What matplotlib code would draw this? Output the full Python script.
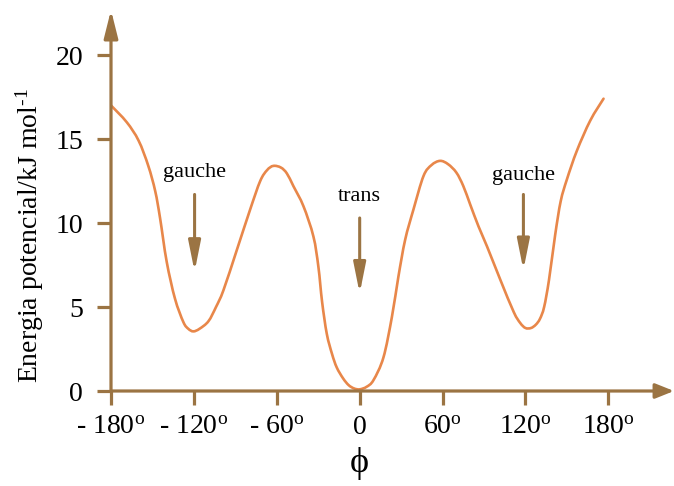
import numpy as np
import matplotlib
matplotlib.use("Agg")
import matplotlib.pyplot as plt
from matplotlib.path import Path
from matplotlib.patches import PathPatch

plt.rcParams['font.family'] = ['Liberation Serif', 'DejaVu Serif']
plt.rcParams['mathtext.fontset'] = 'custom'
plt.rcParams['mathtext.rm'] = 'Liberation Serif'
plt.rcParams['mathtext.it'] = 'Liberation Serif:italic'

# dihedral angle (deg) and potential energy (kJ/mol)
phi = [-180, -168.6, -160, -153, -148, -144.5, -139.7, -133.7, -127.6, -124, -120.4,
       -116, -109.5, -104, -98.6, -88.9, -79.3, -72, -67, -62.5, -57, -52.7, -48,
       -40.7, -33.5, -29.9, -27.2, -23.8, -20, -16.6, -12, -8, -4, 0, 5, 10, 17.2,
       23.3, 28, 32.9, 38.9, 46.2, 52, 58.2, 64, 70, 75, 80, 86, 92.2, 101.9, 111.5,
       116.2, 120, 124, 127.5, 130.5, 133.5, 137, 141.5, 145.5, 150, 157.2, 166.9, 176.5]
energy = [17.0, 16.0, 14.9, 13.4, 11.9, 10.3, 7.7, 5.5, 4.1, 3.7, 3.55,
          3.7, 4.15, 5.0, 6.0, 8.4, 10.8, 12.5, 13.15, 13.4, 13.3, 12.95, 12.2,
          11.0, 9.2, 7.4, 5.3, 3.4, 2.2, 1.4, 0.75, 0.35, 0.15, 0.1, 0.25, 0.65, 2.0,
          4.4, 6.8, 9.0, 10.8, 12.8, 13.45, 13.7, 13.5, 13.0, 12.2, 11.1, 9.8, 8.6, 6.6, 4.7,
          4.05, 3.75, 3.75, 3.95, 4.3, 5.0, 6.6, 9.3, 11.3, 12.6, 14.3, 16.1, 17.4]

xticks = [-180, -120, -60, 0, 60, 120, 180]
xticklabels = ['- 180$^{\\rm o}$', '- 120$^{\\rm o}$', '- 60$^{\\rm o}$', '0',
               '60$^{\\rm o}$', '120$^{\\rm o}$', '180$^{\\rm o}$']
yticks = [0, 5, 10, 15, 20]

# conformer labels: (text, angle, label height, arrow start, arrow tip)
conformers = [('gauche', -119.5, 13.0, 11.7, 7.1),
              ('trans', 0.0, 11.6, 10.3, 5.8),
              ('gauche', 118.5, 12.8, 11.7, 7.2)]

brown = '#9b7443'
orange = '#e8874a'


def smooth_path(x, y):
    # cubic bezier segments through every point (catmull-rom tangents)
    p = np.column_stack([x, y]).astype(float)
    ext = np.vstack([p[0], p, p[-1]])
    verts = [p[0]]
    codes = [Path.MOVETO]
    for i in range(len(p) - 1):
        t0 = (ext[i + 2] - ext[i]) / 6.0
        t1 = (ext[i + 3] - ext[i + 1]) / 6.0
        verts += [p[i] + t0, p[i + 1] - t1, p[i + 1]]
        codes += [Path.CURVE4] * 3
    return Path(verts, codes)


fig = plt.figure(figsize=(6.74, 4.86), dpi=100)
ax = fig.add_axes([111/674, 95/486, 563/674, 381/486])
ax.set_xlim(-180, 227.5)
ax.set_ylim(0, 22.68)
for s in ax.spines.values():
    s.set_visible(False)

ax.add_patch(PathPatch(smooth_path(phi, energy), facecolor='none',
                       edgecolor=orange, lw=1.9, capstyle='round', zorder=3))

# axes with arrow heads
ax.annotate('', xy=(227.5, 0), xytext=(-180, 0), xycoords='data',
            arrowprops=dict(arrowstyle='-|>,head_length=0.8,head_width=0.32',
                            color=brown, lw=2.3, shrinkA=0, shrinkB=0,
                            mutation_scale=14), annotation_clip=False)
ax.annotate('', xy=(-180, 22.68), xytext=(-180, 0), xycoords='data',
            arrowprops=dict(arrowstyle='-|>,head_length=1.2,head_width=0.3',
                            color=brown, lw=2.3, shrinkA=0, shrinkB=0,
                            mutation_scale=14), annotation_clip=False)

ax.set_xticks(xticks)
ax.set_xticklabels(xticklabels)
ax.set_yticks(yticks)
ax.tick_params(axis='both', colors=brown, width=2.3, length=10, labelsize=20,
               labelcolor='black')
ax.tick_params(axis='x', pad=7)
ax.tick_params(axis='y', pad=10)

for text, x, ty, y0, y1 in conformers:
    ax.text(x, ty, text, ha='center', va='center', fontsize=16)
    ax.annotate('', xy=(x, y1), xytext=(x, y0),
                arrowprops=dict(arrowstyle='-|>,head_length=1.3,head_width=0.26',
                                color=brown, lw=2.2, shrinkA=0, shrinkB=0,
                                mutation_scale=14))

fig.text(30/674, 1 - 236/486, 'Energia potencial/kJ mol$^{\u20101}$',
         rotation=90, ha='center', va='center', fontsize=20)
fig.text(359/674, 1 - 463/486, 'ϕ', ha='center', va='center', fontsize=26)

fig.savefig('out.png', dpi=100)
